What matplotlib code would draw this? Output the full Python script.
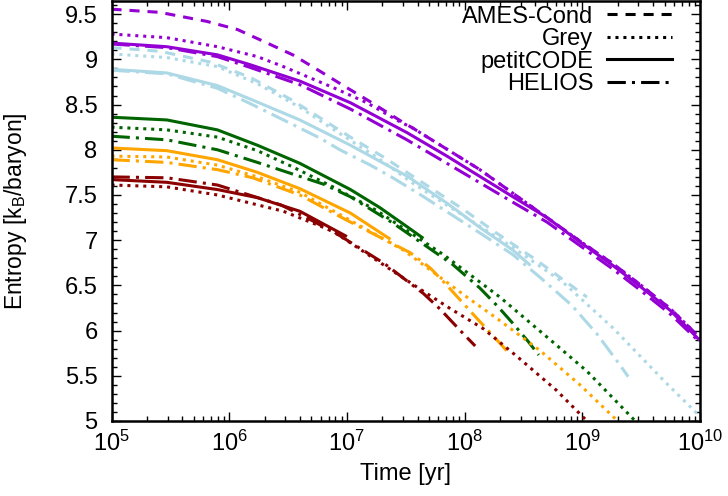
import numpy as np
import matplotlib
matplotlib.use("Agg")
import matplotlib.pyplot as plt
from matplotlib.ticker import MultipleLocator, FuncFormatter, LogLocator

plt.rcParams['font.family'] = ['Liberation Sans', 'DejaVu Sans']
plt.rcParams['mathtext.fontset'] = 'custom'
plt.rcParams['mathtext.rm'] = 'Liberation Sans'
plt.rcParams['mathtext.it'] = 'Liberation Sans:italic'
plt.rcParams['mathtext.bf'] = 'Liberation Sans:bold'

# ---------------- data: log10(age/yr) and entropy [kB/baryon] ----------------
purple_ames_logt = [5.0, 5.41, 5.81, 6.07, 6.29, 6.54, 6.77, 6.97, 7.20, 7.48, 7.56, 8.13, 8.56, 8.98, 9.26, 9.50, 9.75, 10.0]
purple_ames_S    = [9.555, 9.52, 9.42, 9.33, 9.20, 9.05, 8.87, 8.71, 8.53, 8.30, 8.24, 7.78, 7.38, 6.99, 6.74, 6.50, 6.24, 5.92]
purple_grey_logt = [5.0, 5.47, 5.90, 6.24, 6.46, 6.88, 7.17, 7.45, 7.56, 8.13, 8.56, 8.98, 9.26, 9.50, 9.75, 10.0]
purple_grey_S    = [9.28, 9.24, 9.14, 9.03, 8.92, 8.69, 8.52, 8.31, 8.24, 7.78, 7.38, 6.99, 6.74, 6.50, 6.24, 5.92]
purple_petit_logt = [5.0, 5.47, 5.90, 6.18, 6.60, 7.03, 7.51, 7.85, 8.41, 8.70, 8.98, 9.26, 9.50, 9.75, 10.0]
purple_petit_S    = [9.18, 9.14, 9.05, 8.94, 8.76, 8.52, 8.19, 7.93, 7.48, 7.25, 6.98, 6.72, 6.48, 6.22, 5.89]
purple_helios_logt = [5.0, 5.47, 5.90, 6.18, 6.60, 7.03, 7.51, 7.85, 8.41, 8.70, 8.98, 9.26, 9.50, 9.75, 10.0]
purple_helios_S    = [9.17, 9.13, 9.03, 8.91, 8.72, 8.45, 8.11, 7.85, 7.42, 7.20, 6.94, 6.68, 6.44, 6.18, 5.87]

lblue_ames_logt = [5.0, 5.41, 5.84, 6.18, 6.52, 6.74, 7.03, 7.31, 7.51, 7.99, 8.27, 8.61, 9.04]
lblue_ames_S    = [9.13, 9.09, 8.97, 8.80, 8.56, 8.38, 8.14, 7.92, 7.75, 7.34, 7.08, 6.78, 6.37]
lblue_grey_logt = [5.0, 5.47, 5.90, 6.24, 6.60, 6.88, 7.25, 7.56, 7.99, 8.41, 8.84, 9.26, 9.69, 10.0]
lblue_grey_S    = [9.06, 9.02, 8.92, 8.73, 8.47, 8.23, 7.92, 7.63, 7.27, 6.92, 6.53, 6.03, 5.45, 5.05]
lblue_petit_logt = [5.0, 5.47, 5.90, 6.18, 6.60, 7.03, 7.51, 7.85, 8.13, 8.41, 8.56]
lblue_petit_S    = [8.89, 8.85, 8.71, 8.56, 8.33, 8.05, 7.71, 7.41, 7.14, 6.89, 6.72]
lblue_helios_logt = [5.0, 5.47, 5.90, 6.18, 6.43, 6.77, 6.94, 7.20, 7.39, 7.64, 8.13, 8.41, 8.64, 8.91, 9.12, 9.32, 9.39]
lblue_helios_S    = [8.88, 8.84, 8.68, 8.51, 8.35, 8.13, 8.00, 7.83, 7.69, 7.49, 7.08, 6.84, 6.59, 6.28, 5.97, 5.62, 5.49]

green_grey_logt = [5.0, 5.47, 5.90, 6.24, 6.54, 6.88, 7.25, 7.82, 8.30, 8.78, 9.04, 9.45]
green_grey_S    = [8.25, 8.22, 8.14, 7.99, 7.81, 7.59, 7.33, 6.84, 6.37, 5.84, 5.55, 5.00]
green_petit_logt = [5.0, 5.47, 5.90, 6.24, 6.60, 7.03, 7.28, 7.51, 7.65]
green_petit_S    = [8.36, 8.33, 8.22, 8.05, 7.85, 7.56, 7.36, 7.15, 7.02]
green_helios_logt = [5.0, 5.47, 5.90, 6.24, 6.52, 6.80, 7.03, 7.39, 7.90, 8.13, 8.28, 8.41, 8.54, 8.63]
green_helios_S    = [8.15, 8.11, 8.00, 7.86, 7.74, 7.62, 7.48, 7.19, 6.73, 6.47, 6.27, 6.08, 5.88, 5.73]

orange_grey_logt = [5.0, 5.47, 5.90, 6.24, 6.60, 7.00, 7.48, 7.74, 8.02, 8.30, 8.64, 8.98, 9.30]
orange_grey_S    = [7.93, 7.92, 7.83, 7.70, 7.53, 7.24, 6.89, 6.64, 6.37, 6.11, 5.78, 5.40, 5.00]
orange_petit_logt = [5.0, 5.47, 5.90, 6.24, 6.60, 7.03, 7.37]
orange_petit_S    = [8.02, 7.99, 7.89, 7.75, 7.57, 7.30, 7.01]
orange_helios_logt = [5.0, 5.47, 5.90, 6.20, 6.60, 7.00, 7.54, 7.71, 7.85, 8.08, 8.30, 8.37]
orange_helios_S    = [7.89, 7.86, 7.78, 7.69, 7.50, 7.22, 6.86, 6.69, 6.50, 6.17, 5.86, 5.76]

red_grey_logt = [5.0, 5.47, 5.90, 6.46, 6.88, 7.62, 7.87, 8.16, 8.44, 8.78, 9.04]
red_grey_S    = [7.61, 7.59, 7.50, 7.32, 7.10, 6.46, 6.25, 6.02, 5.72, 5.34, 5.00]
red_petit_logt = [5.0, 5.47, 5.90, 6.24, 6.60, 7.00]
red_petit_S    = [7.67, 7.64, 7.56, 7.47, 7.32, 7.04]
red_helios_logt = [5.0, 5.47, 5.90, 6.44, 6.70, 6.94, 7.32, 7.46, 7.65, 7.79, 8.00, 8.09]
red_helios_S    = [7.70, 7.69, 7.61, 7.39, 7.22, 7.05, 6.74, 6.60, 6.41, 6.24, 5.95, 5.83]

model_labels = ["AMES-Cond", "Grey", "petitCODE", "HELIOS"]

# ---------------- styles ----------------
colors = {"purple": "#9400d3", "lblue": "#add8e6", "green": "#006400",
          "orange": "#ffa500", "red": "#8b0000"}
styles = {"ames": (0, (3.3, 2.6)), "grey": (0, (1.0, 1.6)),
          "petit": "-", "helios": (0, (6.0, 2.0, 1.0, 2.0))}
LW = 2.2

curves = [
    ("purple", "ames", purple_ames_logt, purple_ames_S),
    ("purple", "grey", purple_grey_logt, purple_grey_S),
    ("purple", "petit", purple_petit_logt, purple_petit_S),
    ("purple", "helios", purple_helios_logt, purple_helios_S),
    ("lblue", "ames", lblue_ames_logt, lblue_ames_S),
    ("lblue", "grey", lblue_grey_logt, lblue_grey_S),
    ("lblue", "petit", lblue_petit_logt, lblue_petit_S),
    ("lblue", "helios", lblue_helios_logt, lblue_helios_S),
    ("green", "grey", green_grey_logt, green_grey_S),
    ("green", "petit", green_petit_logt, green_petit_S),
    ("green", "helios", green_helios_logt, green_helios_S),
    ("orange", "grey", orange_grey_logt, orange_grey_S),
    ("orange", "petit", orange_petit_logt, orange_petit_S),
    ("orange", "helios", orange_helios_logt, orange_helios_S),
    ("red", "grey", red_grey_logt, red_grey_S),
    ("red", "petit", red_petit_logt, red_petit_S),
    ("red", "helios", red_helios_logt, red_helios_S),
]

fig = plt.figure(figsize=(7.28, 4.96), dpi=100)
ax = fig.add_axes([111.5 / 728, 1 - 421 / 496, (700 - 111.5) / 728, (421 - 1.5) / 496])

for col, mod, lt, s in curves:
    ax.plot(10 ** np.asarray(lt), s, color=colors[col], ls=styles[mod], lw=LW,
            solid_capstyle="butt", dash_capstyle="butt", solid_joinstyle="round")

# legend (black line samples)
for lab, mod in zip(model_labels, ["ames", "grey", "petit", "helios"]):
    ax.plot([], [], color="black", ls=styles[mod], lw=LW, label=lab)
handles, labels = ax.get_legend_handles_labels()
ax.legend(handles, labels, loc="upper right", bbox_to_anchor=(0.953, 0.99),
          frameon=False, markerfirst=False, fontsize=17, handlelength=2.75,
          handletextpad=0.6, labelspacing=0.02, borderpad=0, borderaxespad=0)

ax.set_xscale("log")
ax.set_xlim(1e5, 1e10)
ax.set_ylim(5, 9.64)
ax.yaxis.set_major_locator(MultipleLocator(0.5))
ax.yaxis.set_minor_locator(MultipleLocator(0.1))
ax.yaxis.set_major_formatter(FuncFormatter(lambda v, p: f"{v:g}"))
ax.xaxis.set_major_locator(LogLocator(base=10, numticks=20))
ax.xaxis.set_minor_locator(LogLocator(base=10, subs=np.arange(2, 10), numticks=20))

ax.tick_params(which="both", direction="in", top=True, right=True, labelsize=17,
               width=1.0, colors="black")
ax.tick_params(which="major", length=6.5)
ax.tick_params(axis="x", which="major", pad=7)
ax.tick_params(axis="y", which="major", pad=10)
ax.tick_params(which="minor", length=3.3)
for sp in ax.spines.values():
    sp.set_linewidth(1.8)

ax.set_xlabel("Time [yr]", fontsize=17, labelpad=5)
ax.set_ylabel(r"Entropy [k$_\mathrm{B}$/baryon]", fontsize=16.5)
ax.yaxis.set_label_coords(-0.141, 0.5)

fig.savefig("out.png", dpi=100)
